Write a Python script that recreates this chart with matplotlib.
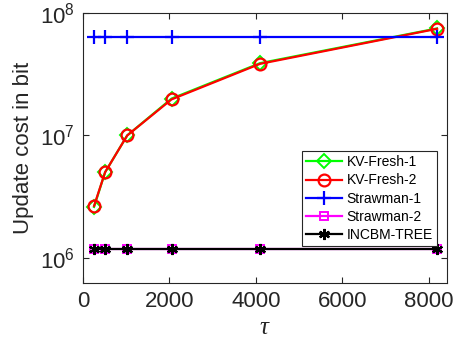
import matplotlib
matplotlib.use("Agg")
import matplotlib.pyplot as plt
from matplotlib.ticker import FixedLocator, NullLocator

plt.rcParams['font.family'] = ['Liberation Sans', 'DejaVu Sans']
plt.rcParams['mathtext.fontset'] = 'custom'
plt.rcParams['mathtext.rm'] = 'Liberation Sans'
plt.rcParams['mathtext.it'] = 'Liberation Serif:italic'

tau = [256, 512, 1024, 2048, 4096, 8192]
kv_fresh_1 = [2.6e6, 5.0e6, 1.0e7, 2.0e7, 3.9e7, 7.5e7]
kv_fresh_2 = [2.65e6, 5.0e6, 1.0e7, 1.97e7, 3.85e7, 7.45e7]
strawman_1 = [6.4e7, 6.4e7, 6.4e7, 6.4e7, 6.4e7, 6.4e7]
strawman_2 = [1.17e6, 1.17e6, 1.17e6, 1.17e6, 1.17e6, 1.17e6]
incbm_tree = [1.17e6, 1.17e6, 1.17e6, 1.17e6, 1.17e6, 1.17e6]

x_ticks = [0, 2000, 4000, 6000, 8000]
y_ticks = [1e6, 1e7, 1e8]
y_tick_labels = [r'$\mathrm{10^6}$', r'$\mathrm{10^7}$', r'$\mathrm{10^8}$']

fig = plt.figure(figsize=(4.56, 3.56), dpi=100)
ax = fig.add_axes([0.182, 0.205, 0.798, 0.758])

lw = 1.6
ax.plot(tau, kv_fresh_1, color='#00ff00', lw=lw, marker='D', ms=7,
        mfc='none', mew=1.4, label='KV-Fresh-1')
ax.plot(tau, kv_fresh_2, color='#ff0000', lw=lw, marker='o', ms=8.5,
        mfc='none', mew=1.6, label='KV-Fresh-2')
ax.plot(tau, strawman_1, color='#0000ff', lw=lw, marker='+', ms=10,
        mew=1.6, label='Strawman-1')
ax.plot(tau, strawman_2, color='#ff00ff', lw=lw, marker='s', ms=6,
        mfc='none', mew=1.4, label='Strawman-2')
ax.plot(tau, incbm_tree, color='black', lw=lw, marker=(6, 2, 0), ms=8,
        mew=1.6, label='INCBM-TREE')

ax.set_yscale('log')
ax.set_xlim(0, 8420)
ax.set_ylim(6.2e5, 1e8)
ax.xaxis.set_major_locator(FixedLocator(x_ticks))
ax.set_xticklabels([str(v) for v in x_ticks])
ax.yaxis.set_major_locator(FixedLocator(y_ticks))
ax.yaxis.set_minor_locator(NullLocator())
ax.set_yticklabels(y_tick_labels)

edge = '#262626'
for s in ax.spines.values():
    s.set_color(edge)
    s.set_linewidth(0.8)
ax.tick_params(which='both', direction='in', top=True, right=True,
               length=4, width=0.8, color=edge, labelsize=16,
               labelcolor=edge, pad=6)

ax.set_xlabel(r'$\it{\tau}$', fontsize=18, color=edge, labelpad=2)
ax.set_ylabel('Update cost in bit', fontsize=16, color=edge, labelpad=4)

leg = ax.legend(loc='lower right', bbox_to_anchor=(0.973, 0.137),
                borderaxespad=0, fontsize=10, frameon=True, fancybox=False,
                handlelength=2.6, labelspacing=0.3, handletextpad=0.3,
                borderpad=0.3, framealpha=1)
leg.get_frame().set_edgecolor(edge)
leg.get_frame().set_linewidth(0.8)

fig.savefig('out.png', dpi=100)
